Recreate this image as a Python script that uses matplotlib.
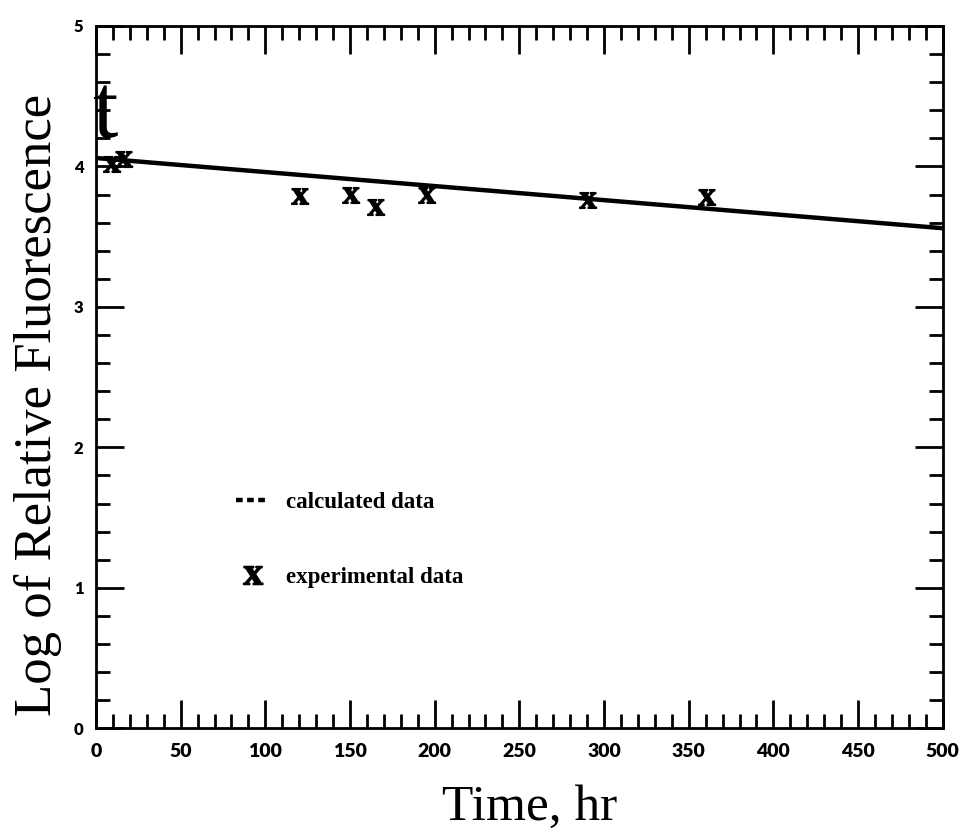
import numpy as np
import matplotlib.pyplot as plt
from matplotlib.lines import Line2D
from matplotlib.path import Path
from matplotlib.textpath import TextPath
from matplotlib.font_manager import FontProperties
from matplotlib.ticker import MultipleLocator

# fitted decay line (end points of the calculated curve)
calc_time = [0, 500]
calc_logf = [4.06, 3.56]

# measured points
exp_time = [9, 16, 120, 150, 165, 195, 290, 360]
exp_logf = [4.02, 4.05, 3.79, 3.80, 3.71, 3.80, 3.76, 3.78]

xticks = [0, 50, 100, 150, 200, 250, 300, 350, 400, 450, 500]
yticks = [0, 1, 2, 3, 4, 5]

serif = 'Liberation Serif'
tickfont = 'Lato'

# bold serif "x" used as the point marker
xp = TextPath((0, 0), 'x', prop=FontProperties(family=serif, weight='bold'))
verts = xp.vertices - xp.vertices.mean(axis=0)
xmarker = Path(verts, xp.codes)

fig = plt.figure(figsize=(9.6, 8.38), dpi=100)
ax = fig.add_axes([0.1, 0.131, 0.882, 0.838])

ax.plot(calc_time, calc_logf, color='black', lw=3.2, solid_capstyle='butt')
ax.plot(exp_time, exp_logf, linestyle='none', marker=xmarker,
        markersize=13, color='black')

ax.set_xlim(0, 500)
ax.set_ylim(0, 5)
ax.set_xticks(xticks)
ax.set_yticks(yticks)
ax.xaxis.set_minor_locator(MultipleLocator(10))
ax.yaxis.set_minor_locator(MultipleLocator(0.2))
ax.tick_params(which='both', direction='in', top=True, right=True, width=2)
ax.tick_params(which='major', length=20)
ax.tick_params(which='minor', length=10)
ax.tick_params(axis='x', pad=11)
ax.tick_params(axis='y', pad=9)
for sp in ax.spines.values():
    sp.set_linewidth(2)

for lab in ax.get_xticklabels():
    lab.set_fontfamily(tickfont)
    lab.set_fontweight('heavy')
    lab.set_fontsize(14)
for lab in ax.get_yticklabels():
    lab.set_fontfamily(tickfont)
    lab.set_fontweight('heavy')
    lab.set_fontsize(12)

# legend
handles = [Line2D([], [], color='black', lw=3.2, linestyle=(0, (1.5, 1))),
           Line2D([], [], linestyle='none', marker=xmarker, markersize=15,
                  color='black')]
ax.legend(handles, ['calculated data', 'experimental data'],
          loc='upper left', bbox_to_anchor=(0.165, 0.336), frameon=False,
          borderpad=0, borderaxespad=0, handlelength=1.4, handletextpad=0.8,
          labelspacing=2.35, prop=FontProperties(family=serif, weight='bold',
                                                  size=16.5))

fig.text(38 / 960, 1 - 405 / 838, 'Log of Relative Fluorescence',
         rotation=90, ha='center', va='center', family=serif, fontsize=38)
fig.text(530 / 960, 1 - 808 / 838, 'Time, hr', ha='center', va='center',
         family=serif, fontsize=37)
fig.text(92 / 960, 1 - 137 / 838, 't', ha='left', va='baseline',
         family=serif, fontsize=66)

fig.savefig('out.png', dpi=100)
